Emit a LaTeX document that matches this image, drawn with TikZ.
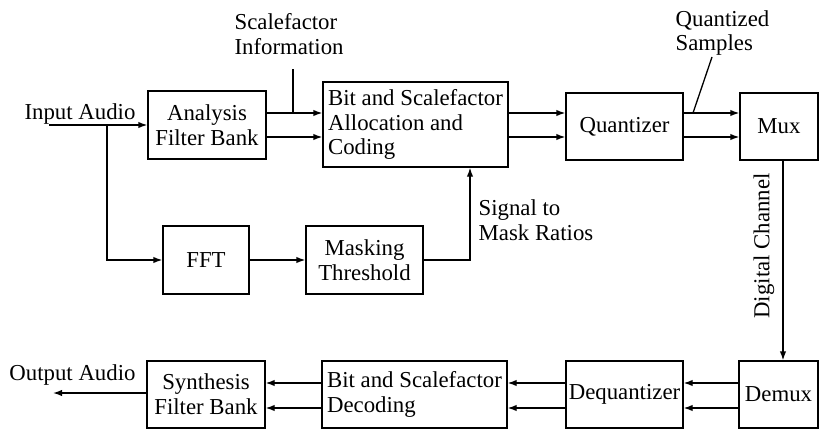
\documentclass[tikz,border=0pt]{standalone}
\usepackage{fontspec}
\setmainfont{Liberation Serif}
\usetikzlibrary{arrows.meta,positioning,calc}

\begin{document}
\begin{tikzpicture}[
	x=0.5pt,y=-0.5pt,
	>={Latex[length=4.5pt,width=3.2pt]},
	line width=0.65pt,
	font=\fontsize{11.4pt}{12.4pt}\selectfont,
	block/.style={
		rectangle,
		draw,
		align=center,
		inner sep=0pt
	},
	note/.style={
		align=left,
		inner sep=0pt
	}
	]
	
	\useasboundingbox (0,0) rectangle (819,429);
	
	% -------------------------------------------------------------------------
	% Encoder blocks
	% -------------------------------------------------------------------------
	
	\node[block,minimum width=59pt,minimum height=34pt] (AFB) at (207,125)
	{Analysis\\Filter Bank};
	
	\node[block,align=left,minimum width=92.5pt,minimum height=42.5pt] (BSA) at (415.5,124.5)
	{Bit and Scalefactor\\Allocation and\\Coding};
	
	\node[block,minimum width=58.5pt,minimum height=33.5pt] (QUANT) at (624.5,126.5)
	{Quantizer};
	
	\node[block,minimum width=39pt,minimum height=33.5pt] (MUX) at (779,126.5)
	{Mux};
	
	\node[block,minimum width=43pt,minimum height=34pt] (FFT) at (206,260)
	{FFT};
	
	\node[block,minimum width=58.5pt,minimum height=34pt] (MASK) at (364.5,260)
	{Masking\\Threshold};
	
	% -------------------------------------------------------------------------
	% Decoder blocks
	% -------------------------------------------------------------------------
	
	\node[block,minimum width=39.5pt,minimum height=33.5pt] (DEMUX) at (778.5,394.5)
	{Demux};
	
	\node[block,minimum width=58.5pt,minimum height=33.5pt] (DEQ) at (624.5,394.5)
	{Dequantizer};
	
	\node[block,align=left,minimum width=92.5pt,minimum height=33.5pt] (BSD) at (414.5,394.5)
	{Bit and Scalefactor\\Decoding};
	
	\node[block,minimum width=59pt,minimum height=33.5pt] (SFB) at (206,394.5)
	{Synthesis\\Filter Bank};
	
	% -------------------------------------------------------------------------
	% Labels
	% -------------------------------------------------------------------------
	
	\node[note,anchor=base] (IN) at (80,119) {Input Audio};
	\node[note,anchor=base] (OUT) at (72.5,380) {Output Audio};
	\node[note,anchor=west] (SFI) at (234,34) {Scalefactor\\Information};
	\node[note,anchor=west] (QS) at (675,33) {Quantized\\Samples};
	\node[note,anchor=west] (SMR) at (478,220) {Signal to\\Mask Ratios};
	\node[note,rotate=90] (DC) at (764,246) {Digital Channel};
	
	% -------------------------------------------------------------------------
	% Helper coordinates
	% -------------------------------------------------------------------------
	
	\coordinate (up) at (0,113);
	\coordinate (lo) at (0,137);
	\coordinate (bup) at (0,383);
	\coordinate (blo) at (0,408);
	\coordinate (inp) at (49,125);
	\coordinate (br) at (107,125);
	\coordinate (outp) at (53,393);
	\coordinate (sfj) at (293,113);
	\coordinate (smr) at (470,0);
	\coordinate (dc) at (783,0);
	\coordinate (qsa) at (712,57);
	\coordinate (qsb) at (693,113);
	
	% -------------------------------------------------------------------------
	% Encoder arrows
	% -------------------------------------------------------------------------
	
	\draw[->] (inp) -- (AFB.west);
	\draw[->] (br) |- (FFT.west);
	
	\draw[->] (AFB.east |- up) -- (BSA.west |- up);
	\draw[->] (AFB.east |- lo) -- (BSA.west |- lo);
	\draw[->] (BSA.east |- up) -- (QUANT.west |- up);
	\draw[->] (BSA.east |- lo) -- (QUANT.west |- lo);
	\draw[->] (QUANT.east |- up) -- (MUX.west |- up);
	\draw[->] (QUANT.east |- lo) -- (MUX.west |- lo);
	
	\draw[->] (FFT) -- (MASK);
	\draw[->] (MASK.east) -| (smr |- BSA.south);
	
	\draw ([yshift=-7pt]SFI.south -| sfj) -- (sfj);
	\draw (qsa) -- (qsb);
	
	% -------------------------------------------------------------------------
	% Channel and decoder arrows
	% -------------------------------------------------------------------------
	
	\draw[->] (MUX.south -| dc) -- (DEMUX.north -| dc);
	
	\draw[->] (DEMUX.west |- bup) -- (DEQ.east |- bup);
	\draw[->] (DEMUX.west |- blo) -- (DEQ.east |- blo);
	\draw[->] (DEQ.west |- bup) -- (BSD.east |- bup);
	\draw[->] (DEQ.west |- blo) -- (BSD.east |- blo);
	\draw[->] (BSD.west |- bup) -- (SFB.east |- bup);
	\draw[->] (BSD.west |- blo) -- (SFB.east |- blo);
	
	\draw[->] (SFB.west |- outp) -- (outp);
	
\end{tikzpicture}
\end{document}
